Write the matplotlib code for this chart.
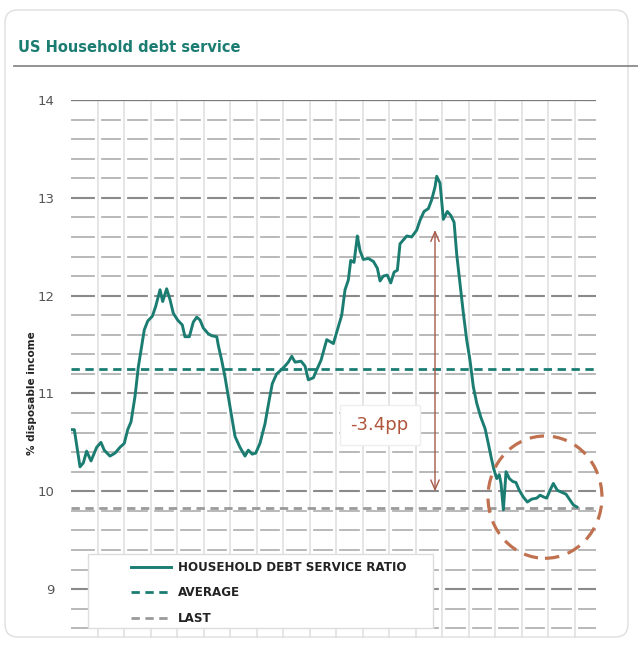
import matplotlib
matplotlib.use("Agg")
import numpy as np
import matplotlib.pyplot as plt
from matplotlib.patches import Ellipse, Rectangle, FancyBboxPatch
from matplotlib.lines import Line2D

# household debt service ratio, % disposable income
years = [1980.00, 1980.25, 1980.68, 1980.93, 1981.18, 1981.51, 1981.94, 1982.26, 1982.51, 1982.94,
         1983.32, 1983.70, 1984.02, 1984.28, 1984.53, 1984.83, 1985.08, 1985.28, 1985.53, 1985.79,
         1986.14, 1986.39, 1986.72, 1986.92, 1987.22, 1987.47, 1987.72, 1988.05, 1988.40, 1988.60,
         1988.93, 1989.23, 1989.49, 1989.74, 1989.98, 1990.36, 1990.62, 1991.00, 1991.12, 1991.37,
         1991.62, 1991.87, 1992.13, 1992.38, 1992.75, 1993.13, 1993.38, 1993.68, 1993.94, 1994.26,
         1994.64, 1994.94, 1995.19, 1995.52, 1995.85, 1996.15, 1996.40, 1996.66, 1996.91, 1997.36,
         1997.66, 1997.91, 1998.29, 1998.54, 1998.87, 1999.30, 1999.80, 2000.17, 2000.43, 2000.68,
         2000.93, 2001.11, 2001.36, 2001.61, 2001.81, 2002.06, 2002.44, 2002.82, 2003.12, 2003.32,
         2003.57, 2003.87, 2004.13, 2004.38, 2004.63, 2004.83, 2005.08, 2005.34, 2005.71, 2006.09,
         2006.34, 2006.64, 2006.97, 2007.22, 2007.47, 2007.60, 2007.85, 2008.10, 2008.40, 2008.66,
         2008.91, 2009.11, 2009.36, 2009.61, 2009.86, 2010.11, 2010.36, 2010.62, 2010.92, 2011.25,
         2011.49, 2011.75, 2011.92, 2012.13, 2012.32, 2012.45, 2012.63, 2012.83, 2013.08, 2013.34,
         2013.58, 2013.83, 2014.14, 2014.44, 2014.77, 2015.15, 2015.40, 2015.70, 2015.90, 2016.15,
         2016.40, 2016.70, 2017.03, 2017.36, 2017.66, 2017.91, 2018.17]
dsr = [10.63, 10.63, 10.25, 10.29, 10.41, 10.31, 10.45, 10.50, 10.42, 10.36,
       10.39, 10.45, 10.49, 10.63, 10.71, 10.97, 11.27, 11.44, 11.65, 11.74,
       11.79, 11.89, 12.06, 11.94, 12.07, 11.96, 11.82, 11.75, 11.70, 11.58,
       11.58, 11.73, 11.78, 11.75, 11.67, 11.61, 11.59, 11.58, 11.49, 11.34,
       11.17, 10.97, 10.76, 10.56, 10.45, 10.36, 10.42, 10.38, 10.39, 10.49,
       10.69, 10.92, 11.10, 11.20, 11.24, 11.28, 11.32, 11.38, 11.32, 11.33,
       11.28, 11.14, 11.16, 11.24, 11.34, 11.55, 11.51, 11.68, 11.80, 12.06,
       12.16, 12.36, 12.34, 12.61, 12.46, 12.37, 12.38, 12.35, 12.28, 12.15,
       12.20, 12.21, 12.13, 12.24, 12.26, 12.53, 12.57, 12.61, 12.60, 12.67,
       12.77, 12.86, 12.89, 12.98, 13.11, 13.22, 13.15, 12.78, 12.86, 12.82,
       12.75, 12.42, 12.12, 11.82, 11.55, 11.34, 11.07, 10.90, 10.76, 10.64,
       10.49, 10.32, 10.22, 10.13, 10.17, 10.08, 9.81, 10.20, 10.13, 10.10,
       10.09, 10.01, 9.94, 9.89, 9.92, 9.93, 9.96, 9.94, 9.93, 10.01,
       10.08, 10.01, 9.99, 9.97, 9.91, 9.86, 9.84]
average = 11.25
last = 9.83
arrow_top = 12.70
change_label = "-3.4pp"

teal = "#1b7d72"
rust = "#b0553b"

fig = plt.figure(figsize=(6.38, 6.5), dpi=100)
ax = fig.add_axes([71/638, 1-638/650, 525/638, 538/650])
ax.set_xlim(1980, 2019.62)
ax.set_ylim(8.5, 14)

# grid: grey horizontals, broken by white/light-grey verticals
for v in np.arange(8.6, 14.01, 0.2):
    major = abs(v - round(v)) < 1e-6
    ax.axhline(v, color="#8a8a8a" if major else "#b3b3b3", lw=1.5 if major else 1.3, zorder=1)
xs = np.arange(1982, 2019, 2)
ax.vlines(xs, 8.5, 14, color="white", lw=4.5, zorder=1.5)
ax.vlines(xs, 8.5, 14, color="#e3e3e3", lw=1.3, zorder=1.6)
ax.axhline(14, color="#7a7a7a", lw=1.6, zorder=1.7)

ax.plot(years, dsr, color=teal, lw=2.1, zorder=5, label="HOUSEHOLD DEBT SERVICE RATIO")
ax.axhline(average, color=teal, lw=2.0, ls=(0, (3, 2)), zorder=4, label="AVERAGE")
ax.axhline(last, color="#9a9a9a", lw=2.0, ls=(0, (3, 2)), zorder=4, label="LAST")

ax.set_yticks(range(9, 15))
ax.set_xticks([])
ax.tick_params(axis="y", length=0, pad=12, labelsize=9.5, labelcolor="#555555")
for s in ax.spines.values():
    s.set_visible(False)

# arrow and label
ax.annotate("", xy=(2007.47, arrow_top), xytext=(2007.47, last + 0.14),
            arrowprops=dict(arrowstyle="<->,head_length=0.7,head_width=0.3", color="#a65a48", lw=1.0),
            zorder=6)
ax.text(2003.3, 10.68, change_label, ha="center", va="center", fontsize=13, color=rust, zorder=7,
        bbox=dict(boxstyle="square,pad=0.6", fc="white", ec="#eeeeee", lw=1))

ax.add_patch(Ellipse((2015.77, 9.94), 8.6, 1.25, fill=False, ec="#c0714f", lw=2.3,
                     ls=(0, (4.5, 2.8)), clip_on=False, zorder=8))

# legend box
ax.add_patch(Rectangle(((88-71)/525, (638-628)/538), (433-88)/525, (628-554)/538,
                       transform=ax.transAxes, fc="white", ec="#dddddd", lw=1, zorder=6))
leg = ax.legend(loc="upper left", bbox_to_anchor=((120-71)/525, (638-550)/538), frameon=False,
                handlelength=3.4, handletextpad=0.55, labelspacing=1.05,
                prop=dict(weight="bold", size=8.6))
leg.set_zorder(7)
for t in leg.get_texts():
    t.set_color("#222222")

# card, title, axis label
fig.patches.append(FancyBboxPatch((5/638, 1-637/650), 623/638, 627/650,
                                  boxstyle="round,pad=0,rounding_size=0.02",
                                  transform=fig.transFigure, fc="none", ec="#dedede", lw=1))
fig.text(18/638, 1-47/650, "US Household debt service", fontsize=10.5, weight="bold",
         color=teal, va="center")
fig.add_artist(Line2D([14/638, 1.0], [1-66/650, 1-66/650], transform=fig.transFigure,
                      color="#8a8a8a", lw=1.3))
fig.text(32/638, 1-393/650, "% disposable income", rotation=90, fontsize=7.5, weight="bold",
         color="#222222", ha="center", va="center")

fig.savefig("out.png", dpi=100, facecolor="white")
